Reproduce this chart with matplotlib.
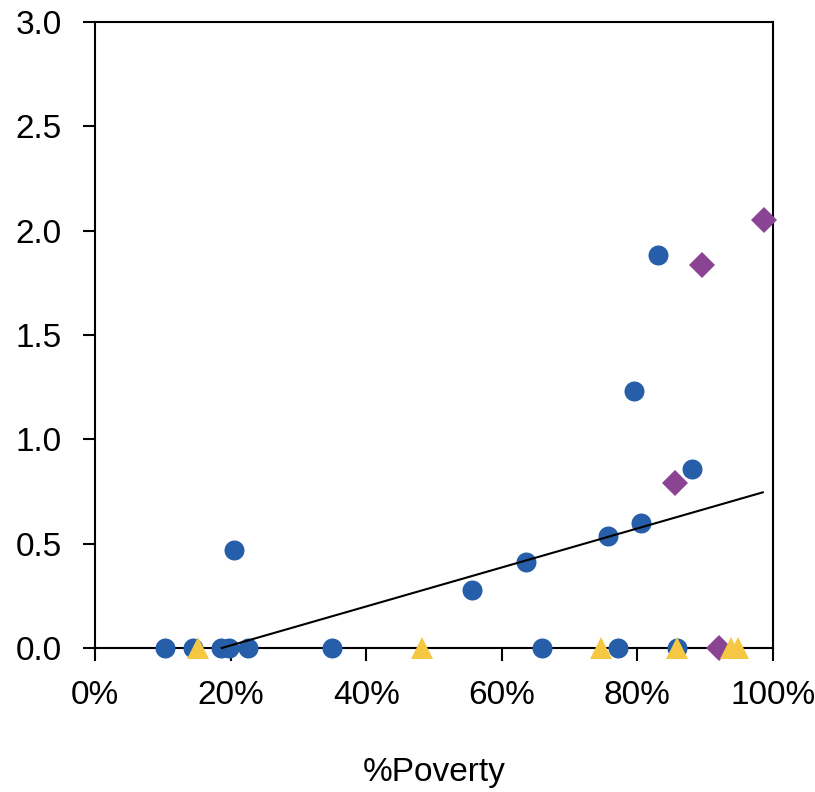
import matplotlib
matplotlib.use("Agg")
import matplotlib.pyplot as plt
from matplotlib.ticker import FuncFormatter
from matplotlib import font_manager

# ---- data ----
blue_x = [10.3, 14.5, 18.6, 19.8, 22.6, 20.5, 35.0, 55.6, 63.6, 65.9, 75.7, 77.2, 80.5, 79.5, 83.1, 85.8, 88.1]
blue_y = [0.0, 0.0, 0.0, 0.0, 0.0, 0.47, 0.0, 0.277, 0.41, 0.0, 0.537, 0.0, 0.60, 1.232, 1.884, 0.0, 0.857]

purple_x = [98.6, 89.5, 85.5, 92.1]
purple_y = [2.052, 1.836, 0.79, 0.0]

yellow_x = [15.2, 48.2, 74.6, 85.8, 93.8, 94.9]
yellow_y = [0.0, 0.0, 0.0, 0.0, 0.0, 0.0]

trend_x = [18.7, 98.5]
trend_y = [0.0, 0.746]

x_ticks = [0, 20, 40, 60, 80, 100]
y_ticks = [0.0, 0.5, 1.0, 1.5, 2.0, 2.5, 3.0]
x_label = "%Poverty"

# ---- font ----
names = {f.name for f in font_manager.fontManager.ttflist}
fam = [f for f in ["Liberation Sans Narrow", "Liberation Sans", "DejaVu Sans"] if f in names]
plt.rcParams["font.family"] = fam

fig = plt.figure(figsize=(8.15, 7.92), dpi=100)
ax = fig.add_axes([95/815, 1-648/792, (773-95)/815, (648-22)/792])

ax.plot(blue_x, blue_y, linestyle="none", marker="o", ms=14.4, color="#265EAA",
        mew=0, clip_on=False, zorder=3)
ax.plot(purple_x, purple_y, linestyle="none", marker="D", ms=13.5, color="#8B4394",
        mew=0, clip_on=False, zorder=4)
ax.plot(yellow_x, yellow_y, linestyle="none", marker="^", ms=16.5, color="#F5C843",
        mew=0, clip_on=False, zorder=5)
ax.plot(trend_x, trend_y, color="black", lw=1.5, zorder=6, clip_on=False)

ax.set_xlim(0, 100)
ax.set_ylim(0, 3.0)
ax.set_xticks(x_ticks)
ax.set_yticks(y_ticks)
ax.xaxis.set_major_formatter(FuncFormatter(lambda v, p: f"{v:.0f}%"))
ax.yaxis.set_major_formatter(FuncFormatter(lambda v, p: f"{v:.1f}"))

for s in ax.spines.values():
    s.set_linewidth(1.5)
    s.set_color("black")
    s.set_zorder(2)

ax.tick_params(axis="both", direction="out", length=9, width=1.5, labelsize=24, pad=14)
ax.tick_params(axis="y", pad=15)
ax.set_xlabel(x_label, fontsize=24, labelpad=33)

fig.savefig("out.png", dpi=100, facecolor="white")
